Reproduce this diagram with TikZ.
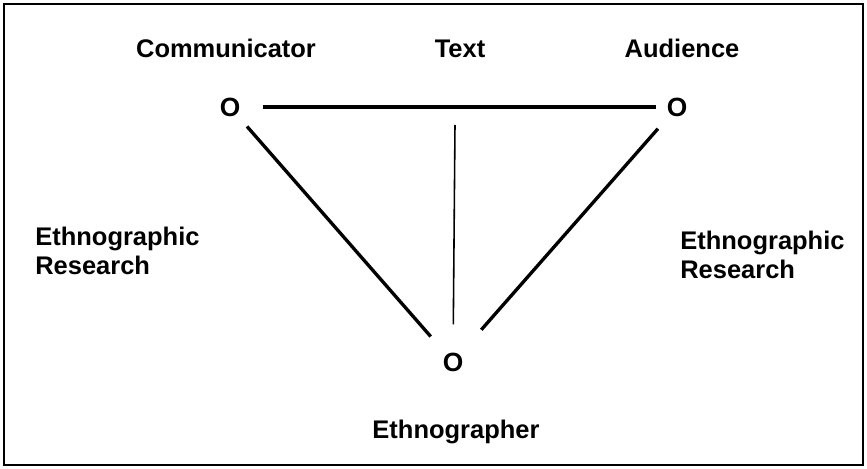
\documentclass[tikz,border=0pt]{standalone}
\usepackage{fontspec}
\setmainfont{Liberation Sans}
\usetikzlibrary{positioning}
\tikzset{
  lbl/.style={font=\fontsize{14.5}{17}\selectfont\bfseries,inner sep=0pt},
  vertex/.style={font=\fontsize{15}{17}\selectfont\bfseries,inner sep=0pt},
  heavy/.style={line width=1.9pt},
  light/.style={line width=0.9pt}
}
\begin{document}
\begin{tikzpicture}[x=0.02cm,y=-0.02cm]
  \useasboundingbox (0,0) rectangle (867,469);
  \draw[line width=1.1pt] (4,4) rectangle (863,465);
  % labels along the top
  \node[lbl,anchor=base] (comm) at (226,58) {Communicator};
  \node[lbl,anchor=base] (text) at (460,58) {Text};
  \node[lbl,anchor=base] (aud)  at (682,58) {Audience};
  % the three points
  \node[vertex] (oComm) at (230,107) {O};
  \node[vertex] (oAud)  at (677,107) {O};
  \node[vertex] (oEth)  at (453,362) {O};
  \node[lbl,anchor=base] (eth) at (456,439) {Ethnographer};
  \node[lbl,anchor=base west,align=left] (resL) at (35,275) {Ethnographic\\Research};
  \node[lbl,anchor=base west,align=left] (resR) at (680,279) {Ethnographic\\Research};
  \coordinate (vtop) at (455,125);
  % connectors
  \draw[heavy,shorten <=0.44cm,shorten >=0.2cm] (oComm) -- (oAud);
  \draw[light,shorten >=0.56cm] (vtop) -- (oEth);
  \draw[heavy,shorten <=0.26cm,shorten >=0.42cm] (oComm) -- (oEth);
  \draw[heavy,shorten <=0.32cm,shorten >=0.6cm] (oAud) -- (oEth);
\end{tikzpicture}
\end{document}
